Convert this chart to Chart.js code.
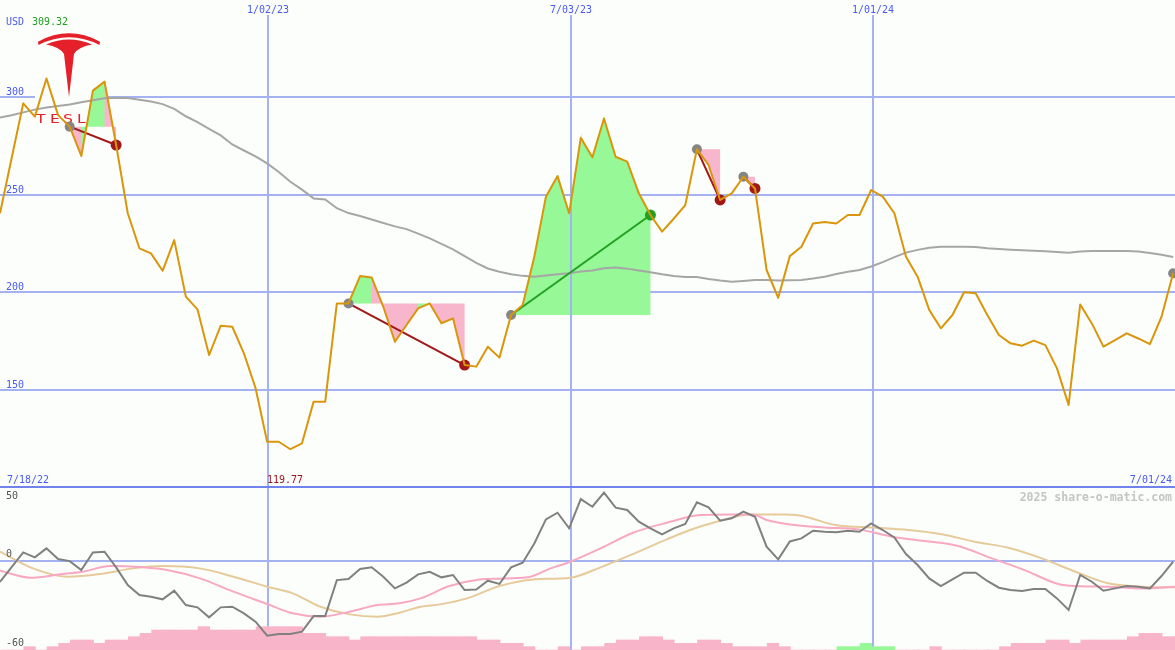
<!DOCTYPE html>
<html>
<head>
<meta charset="utf-8">
<title>TSLA weekly</title>
<script src="https://cdn.jsdelivr.net/npm/chart.js@4.4.1/dist/chart.umd.min.js"></script>
<style>
  html, body { margin: 0; padding: 0; background: #fcfefc; overflow: hidden; }
  #wrap { position: relative; width: 1175px; height: 650px; }
  #top { position: absolute; left: 0; top: 0; }
  #bot { position: absolute; left: 0; top: 487px; }
</style>
</head>
<body>
<div id="wrap">
  <canvas id="top" width="1175" height="487"></canvas>
  <canvas id="bot" width="1175" height="163"></canvas>
</div>
<script>
// Weekly closing prices (USD), one value per week starting 7/18/22
const closes = [
  240.4, 268.5, 296.6, 289.8, 309.32, 290.6, 284.7, 269.7, 303.1, 307.7,
  275.3, 240.4, 222.5, 219.9, 211.0, 226.7, 197.8, 191.3, 167.9, 182.9,
  182.4, 168.8, 151.1, 123.6, 123.6, 119.77, 122.8, 144.1, 144.1, 194.3,
  194.3, 208.3, 207.6, 192.6, 174.7, 183.3, 191.8, 194.3, 184.2, 186.7,
  162.8, 162.0, 172.2, 166.6, 188.4, 193.5, 218.2, 248.9, 259.4, 240.4,
  279.0, 269.0, 288.9, 269.3, 266.8, 250.6, 239.5, 231.0, 237.6, 244.6,
  273.1, 265.1, 247.2, 250.6, 259.1, 253.1, 211.4, 197.2, 218.5, 223.3,
  235.2, 235.9, 235.2, 239.5, 239.5, 252.3, 248.9, 240.4, 218.2, 208.0,
  191.0, 181.6, 188.4, 200.0, 199.5, 188.4, 178.2, 173.9, 172.7, 175.3,
  173.0, 161.1, 142.4, 193.8, 184.1, 172.2, 175.6, 179.0, 176.4, 173.5,
  187.5, 209.7
];

// Long moving average of the close
const priceMA = [
  289.3, 290.5, 292.0, 293.4, 294.5, 295.2, 296.0, 297.2, 298.2, 299.2,
  299.5, 299.3, 298.4, 297.5, 296.2, 293.8, 290.0, 287.0, 283.6, 280.2,
  275.6, 272.5, 269.5, 265.9, 261.5, 256.5, 252.5, 248.0, 247.5, 243.0,
  240.5, 239.0, 237.2, 235.4, 233.7, 232.3, 230.0, 227.6, 224.8, 222.0,
  218.5, 215.0, 212.2, 210.5, 209.2, 208.4, 208.0, 208.6, 209.2, 209.8,
  210.6, 211.2, 212.3, 212.7, 212.1, 211.2, 210.3, 209.2, 208.3, 207.8,
  207.8, 206.8, 206.0, 205.4, 205.8, 206.3, 206.3, 206.0, 206.1, 206.3,
  207.0, 208.0, 209.4, 210.5, 211.4, 213.2, 215.4, 218.0, 220.3, 221.7,
  222.8, 223.3, 223.3, 223.3, 223.1, 222.5, 222.1, 221.8, 221.5, 221.3,
  221.0, 220.6, 220.2, 220.8, 221.1, 221.1, 221.1, 221.1, 220.8, 220.1,
  219.2, 218.0
];

// Momentum oscillator, one value per week
const momentum = [
  -16.2, -5.0, 6.4, 2.6, 9.5, 1.3, -0.3, -7.2, 6.4, 6.9,
  -5.1, -18.7, -26.4, -27.7, -29.7, -23.1, -34.1, -35.9, -43.6, -35.9,
  -35.4, -40.5, -46.9, -57.7, -56.4, -56.4, -54.6, -42.6, -42.6, -14.9,
  -14.1, -6.4, -5.1, -12.3, -21.3, -16.9, -10.5, -8.5, -12.8, -11.0,
  -22.6, -22.1, -15.4, -17.9, -5.1, -1.5, 13.3, 31.8, 36.9, 24.9,
  47.4, 41.5, 52.3, 40.8, 39.0, 30.0, 24.9, 20.3, 24.9, 28.2,
  44.9, 41.0, 30.8, 32.6, 37.7, 33.8, 10.8, 1.0, 14.8, 17.2,
  23.1, 22.3, 21.8, 23.1, 22.3, 28.7, 23.6, 17.9, 5.1, -3.3,
  -13.6, -19.5, -14.4, -9.2, -9.2, -15.6, -20.8, -22.6, -23.3, -21.8,
  -21.8, -29.0, -37.9, -11.0, -16.2, -23.1, -21.3, -19.5, -20.0, -21.3,
  -11.8, -0.8
];

// Fast signal line (week position, value)
const fastWeeks = [0, 2.6, 5.2, 7.1, 9.5, 12.3, 14.4, 17.2, 20.1, 23.0, 25.2, 27.6, 30.1, 32.5,
  34.4, 36.2, 38.7, 41.3, 43.0, 45.4, 47.4, 49.1, 51.7, 54.5, 57.4, 60.3, 63.1, 64.8, 66.0,
  68.4, 71.0, 73.9, 76.8, 79.6, 82.5, 85.4, 88.2, 91.1, 92.6, 95.4, 98.3, 101.2];
const fastVals = [-7.7, -13.1, -10.5, -8.5, -4.1, -5.1, -7.2, -13.6, -23.8, -33.3, -40.5, -43.1, -39.2, -34.1,
  -32.8, -29.0, -19.5, -14.4, -13.8, -12.8, -5.9, -0.8, 9.5, 21.5, 29.2, 35.1, 35.6, 35.6, 31.3,
  27.4, 25.6, 24.1, 18.5, 15.1, 11.3, 1.8, -7.2, -17.9, -19.5, -20.0, -21.3, -20.0];

// Slow signal line (week position, value)
const slowWeeks = [0, 2.84, 5.77, 8.6, 11.45, 14.0, 17.2, 20.1, 23.0, 25.2, 27.6, 30.1, 32.5, 34.4,
  36.2, 37.9, 40.2, 43.0, 45.9, 49.1, 51.7, 54.5, 57.4, 59.4, 61.7, 64.6, 67.4, 69.0, 71.9,
  75.3, 78.2, 81.1, 83.9, 86.8, 89.7, 92.6, 95.4, 98.3, 101.2];
const slowVals = [6.9, -5.9, -12.3, -10.3, -5.9, -4.1, -5.9, -12.3, -20.0, -25.1, -35.4, -41.3, -43.1, -40.0,
  -35.4, -33.6, -29.0, -19.5, -14.4, -13.1, -5.1, 5.1, 16.4, 23.6, 30.0, 35.6, 35.6, 34.6, 27.4,
  25.4, 23.6, 20.3, 14.6, 10.0, 1.8, -8.5, -17.4, -20.0, -20.5];

// Weekly histogram level and its colour flag (1 = positive week)
const histLevels = [
  0, 0, 1, 0, 1, 2, 3, 3, 2, 3,
  3, 4, 5, 6, 6, 6, 6, 7, 6, 6,
  6, 6, 7, 7, 7, 7, 5, 5, 4, 4,
  3, 4, 4, 4, 4, 4, 4, 4, 4, 4,
  4, 3, 3, 2, 2, 1, 0, 0, 1, 0,
  1, 1, 2, 3, 3, 4, 4, 3, 2, 2,
  3, 3, 2, 1, 1, 1, 2, 1, 0, 0,
  0, 0, 1, 1, 2, 1, 1, 0, 0, 0,
  1, 0, 0, 0, 0, 0, 1, 2, 2, 2,
  3, 3, 2, 3, 3, 3, 3, 4, 5, 5,
  4, 4
];
const histPositive = [
  0,0,0,0,0,0,0,0,0,0, 0,0,0,0,0,0,0,0,0,0, 0,0,0,0,0,0,0,0,0,0,
  0,0,0,0,0,0,0,0,0,0, 0,0,0,0,0,0,0,0,0,0, 0,0,0,0,0,0,0,0,0,0,
  0,0,0,0,0,0,0,0,0,0, 0,0,1,1,1,1,1,0,0,0, 0,0,0,0,0,0,0,0,0,0,
  0,0,0,0,0,0,0,0,0,0, 0,0
];

// Signals: entry week and exit week of each closed position, plus the open one
const tradeEntry = [6, 30, 44, 60, 64];
const tradeExit = [10, 40, 56, 62, 65];
const openEntry = [101];

// Axis annotations
const priceTicks = [150, 200, 250, 300];
const dateLabels = ['1/02/23', '7/03/23', '1/01/24'];
const dateWeeks = [23.07, 49.16, 75.16];
const firstDate = '7/18/22';
const lastDate = '7/01/24';
const oscTicks = ['50', '0', '-60'];
const currency = 'USD';

const BG = '#fcfefc';
const GRID = '#a4b2f2';
const SEP = '#7282ec';
const BLUE_TXT = '#4a5af0';
const ORANGE = '#d9960a';
const FILL_UP = '#96f896';
const FILL_DN = '#f8b6cc';
const LOSS = '#a01818';
const GAIN = '#22a022';
const X_MAX = 101.16;

const xy = (vals, xs) => vals.map((v, i) => ({ x: xs ? xs[i] : i, y: v }));
const maxClose = Math.max(...closes);
const minClose = Math.min(...closes);
const minIdx = closes.indexOf(minClose);
const MONO = '"DejaVu Sans Mono", monospace';

function drawLogo(ctx) {
  ctx.fillStyle = BG;
  ctx.fillRect(35, 28, 72, 100);
  ctx.fillStyle = '#e6202a';
  // upper arc
  ctx.beginPath();
  ctx.moveTo(38, 41.7);
  ctx.quadraticCurveTo(69, 25, 100, 41.7);
  ctx.lineTo(99.5, 45);
  ctx.quadraticCurveTo(69, 29.6, 38.5, 45);
  ctx.closePath();
  ctx.fill();
  // T body
  ctx.beginPath();
  ctx.moveTo(46, 44.5);
  ctx.quadraticCurveTo(69, 34.5, 92, 44.5);
  ctx.quadraticCurveTo(78, 47, 74, 54);
  ctx.lineTo(69, 97);
  ctx.lineTo(64, 54);
  ctx.quadraticCurveTo(60, 47, 46, 44.5);
  ctx.closePath();
  ctx.fill();
  // wordmark
  const letters = ['T', 'E', 'S', 'L', 'A'];
  const lx = [36, 50, 63, 77, 90];
  ctx.font = '12px "DejaVu Sans"';
  ctx.textBaseline = 'alphabetic';
  ctx.textAlign = 'left';
  letters.forEach((ch, i) => {
    ctx.save();
    ctx.translate(lx[i], 123);
    ctx.scale(1.3, 1);
    ctx.fillText(ch, 0, 0);
    ctx.restore();
  });
}

const topDecor = {
  id: 'topDecor',
  beforeDraw(chart) {
    const ctx = chart.ctx;
    ctx.save();
    ctx.fillStyle = BG;
    ctx.fillRect(0, 0, chart.width, chart.height);
    ctx.restore();
  },
  beforeDatasetsDraw(chart) {
    const { ctx } = chart;
    const x = chart.scales.x, y = chart.scales.y;
    ctx.save();
    // price grid
    ctx.strokeStyle = GRID;
    ctx.lineWidth = 2;
    priceTicks.forEach(v => {
      const py = Math.round(y.getPixelForValue(v));
      ctx.beginPath();
      ctx.moveTo(0, py);
      ctx.lineTo(chart.width, py);
      ctx.stroke();
    });
    drawLogo(ctx);
    // position shading between price and entry level
    tradeEntry.forEach((e, t) => {
      const level = closes[e];
      const ly = y.getPixelForValue(level);
      const last = tradeExit[t];
      for (let j = e; j < last; j++) {
        const x0 = x.getPixelForValue(j), x1 = x.getPixelForValue(j + 1);
        const y0 = y.getPixelForValue(closes[j]), y1 = y.getPixelForValue(closes[j + 1]);
        // overlap neighbours slightly so no seam shows between segments
        const ext = j + 1 < last ? 0.8 : 0;
        const slope = (y1 - y0) / (x1 - x0);
        ctx.fillStyle = closes[j + 1] >= level ? FILL_UP : FILL_DN;
        ctx.beginPath();
        ctx.moveTo(x0, ly);
        ctx.lineTo(x0, y0);
        ctx.lineTo(x1 + ext, y1 + slope * ext);
        ctx.lineTo(x1 + ext, ly);
        ctx.closePath();
        ctx.fill();
      }
    });
    // date grid
    ctx.strokeStyle = GRID;
    ctx.lineWidth = 2;
    dateWeeks.forEach(w => {
      const px = Math.round(x.getPixelForValue(w));
      ctx.beginPath();
      ctx.moveTo(px, 15);
      ctx.lineTo(px, chart.height);
      ctx.stroke();
    });
    ctx.restore();
  },
  afterDatasetsDraw(chart) {
    const { ctx } = chart;
    const x = chart.scales.x, y = chart.scales.y;
    ctx.save();
    ctx.font = '10px ' + MONO;
    ctx.textBaseline = 'alphabetic';
    ctx.fillStyle = BLUE_TXT;
    ctx.textAlign = 'left';
    priceTicks.forEach(v => {
      ctx.fillText(String(v), 6, Math.round(y.getPixelForValue(v)) - 2);
    });
    ctx.textAlign = 'center';
    dateLabels.forEach((d, i) => ctx.fillText(d, Math.round(x.getPixelForValue(dateWeeks[i])), 12.5));
    ctx.textAlign = 'left';
    ctx.fillText(currency, 6, 25);
    ctx.fillStyle = '#20a020';
    ctx.fillText(maxClose.toFixed(2), 32, 25);
    ctx.fillStyle = BLUE_TXT;
    ctx.fillText(firstDate, 7, 483);
    ctx.textAlign = 'right';
    ctx.fillText(lastDate, 1172, 483);
    ctx.textAlign = 'left';
    ctx.fillStyle = '#a0141e';
    ctx.fillText(minClose.toFixed(2), Math.round(x.getPixelForValue(minIdx)) - 23, 483);
    // panel separator
    ctx.fillStyle = SEP;
    ctx.fillRect(0, 486, chart.width, 1);
    ctx.restore();
  }
};

const tradeLineSets = tradeEntry.map((e, t) => {
  const xo = tradeExit[t];
  const gain = closes[xo] > closes[e];
  return {
    label: 'position ' + (t + 1),
    data: [{ x: e, y: closes[e] }, { x: xo, y: closes[xo] }],
    borderColor: gain ? GAIN : LOSS,
    borderWidth: 2,
    pointRadius: 0,
    order: 4
  };
});

const exitColors = tradeExit.map((xo, t) => closes[xo] > closes[tradeEntry[t]] ? GAIN : LOSS);
const entryPoints = tradeEntry.concat(openEntry).map(e => ({ x: e, y: closes[e] }));
const exitPoints = tradeExit.map(xo => ({ x: xo, y: closes[xo] }));

new Chart(document.getElementById('top'), {
  type: 'line',
  data: {
    datasets: [
      {
        label: 'close', data: xy(closes), borderColor: ORANGE, borderWidth: 2,
        pointRadius: 0, tension: 0, borderJoinStyle: 'round', order: 1
      },
      {
        label: 'exits', data: exitPoints, showLine: false, pointRadius: 5.5,
        pointBackgroundColor: exitColors, pointBorderWidth: 0, order: 2
      },
      {
        label: 'entries', data: entryPoints, showLine: false, pointRadius: 5,
        pointBackgroundColor: '#858585', pointBorderWidth: 0, order: 3
      },
      ...tradeLineSets,
      {
        label: 'average', data: xy(priceMA), borderColor: '#a6a6a6', borderWidth: 2,
        pointRadius: 0, tension: 0, order: 6
      }
    ]
  },
  options: {
    responsive: false, animation: false, devicePixelRatio: 1, events: [],
    layout: { padding: 0, autoPadding: false },
    plugins: { legend: { display: false }, tooltip: { enabled: false } },
    scales: {
      x: { type: 'linear', min: 0, max: X_MAX, offset: false, display: false },
      y: { min: 100.46, max: 349.44, display: false }
    }
  },
  plugins: [topDecor]
});

const botDecor = {
  id: 'botDecor',
  beforeDraw(chart) {
    const ctx = chart.ctx;
    ctx.save();
    ctx.fillStyle = BG;
    ctx.fillRect(0, 0, chart.width, chart.height);
    ctx.restore();
  },
  beforeDatasetsDraw(chart) {
    const { ctx } = chart;
    const x = chart.scales.x, y = chart.scales.y;
    ctx.save();
    ctx.strokeStyle = GRID;
    ctx.lineWidth = 2;
    const zy = Math.round(y.getPixelForValue(0));
    ctx.beginPath();
    ctx.moveTo(0, zy);
    ctx.lineTo(chart.width, zy);
    ctx.stroke();
    dateWeeks.forEach(w => {
      const px = Math.round(x.getPixelForValue(w));
      ctx.beginPath();
      ctx.moveTo(px, 0);
      ctx.lineTo(px, chart.height);
      ctx.stroke();
    });
    ctx.restore();
  },
  afterDatasetsDraw(chart) {
    const { ctx } = chart;
    ctx.save();
    ctx.fillStyle = SEP;
    ctx.fillRect(0, 0, chart.width, 1);
    ctx.font = '10px ' + MONO;
    ctx.fillStyle = '#555555';
    ctx.textAlign = 'left';
    ctx.textBaseline = 'alphabetic';
    const ys = [12.3, 70.3, 158.7];
    oscTicks.forEach((t, i) => ctx.fillText(t, 6, ys[i]));
    ctx.font = 'bold 11.5px ' + MONO;
    ctx.fillStyle = '#c4c4c4';
    ctx.textAlign = 'right';
    ctx.fillText('2025 share-o-matic.com', 1172, 13.7);
    ctx.restore();
  }
};

new Chart(document.getElementById('bot'), {
  type: 'line',
  data: {
    datasets: [
      {
        label: 'momentum', data: xy(momentum), borderColor: '#808080', borderWidth: 2,
        pointRadius: 0, tension: 0, order: 1
      },
      {
        label: 'fast', data: xy(fastVals, fastWeeks), borderColor: '#f8a8c2', borderWidth: 2,
        pointRadius: 0, cubicInterpolationMode: 'monotone', order: 2
      },
      {
        label: 'slow', data: xy(slowVals, slowWeeks), borderColor: '#e6ca9a', borderWidth: 2,
        pointRadius: 0, cubicInterpolationMode: 'monotone', order: 3
      },
      {
        type: 'bar', label: 'weekly', yAxisID: 'y2',
        data: histLevels.map((v, i) => ({ x: i + 0.55, y: v })),
        backgroundColor: histPositive.map(p => p ? FILL_UP : '#f8b4c8'),
        borderWidth: 0, barPercentage: 1, categoryPercentage: 1, order: 4
      }
    ]
  },
  options: {
    responsive: false, animation: false, devicePixelRatio: 1, events: [],
    layout: { padding: 0, autoPadding: false },
    plugins: { legend: { display: false }, tooltip: { enabled: false } },
    scales: {
      x: { type: 'linear', min: 0, max: X_MAX, offset: false, display: false },
      y: { min: -68.7, max: 56.7, display: false },
      y2: { min: 0, max: 48.9, display: false }
    }
  },
  plugins: [botDecor]
});
</script>
</body>
</html>
